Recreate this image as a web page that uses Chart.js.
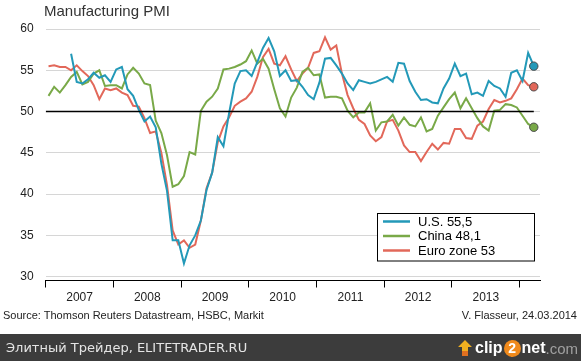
<!DOCTYPE html>
<html><head><meta charset="utf-8">
<script src="https://cdn.jsdelivr.net/npm/chart.js@4.4.1/dist/chart.umd.min.js"></script>
<style>
html,body{margin:0;padding:0;background:#fff;}
#wrap{position:relative;width:581px;height:361px;overflow:hidden;font-family:"Liberation Sans",Arial,sans-serif;background:#fff;}
canvas{position:absolute;left:0;top:0;}
.t{position:absolute;white-space:nowrap;line-height:1;}
</style></head><body>
<div id="wrap">
<canvas id="c" width="581" height="361"></canvas>
<div class="t" style="left:44px;top:3px;font-size:15px;color:#333;">Manufacturing PMI</div>
<div class="t" style="left:3px;top:310px;font-size:11px;color:#222;">Source: Thomson Reuters Datastream, HSBC, Markit</div>
<div class="t" style="right:4px;top:310px;font-size:11px;color:#222;">V. Flasseur, 24.03.2014</div>
<div style="position:absolute;left:0;top:334px;width:581px;height:27px;background:#3c3c3c;"></div>
<div class="t" style="left:6px;top:341px;font-family:'DejaVu Sans';font-size:13px;color:#e4e4e4;">Элитный Трейдер, ELITETRADER.RU</div>
<div class="t" style="left:458px;top:338px;height:20px;display:flex;align-items:center;">
  <svg width="14" height="16" viewBox="0 0 14 16"><polygon points="7,0 14,7 10,7 10,16 4,16 4,7 0,7" fill="#f0b020"/><rect x="4" y="11" width="6" height="5" fill="#e07020"/></svg>
  <span style="font-weight:bold;font-size:16px;color:#fff;margin-left:3px;">clip</span>
  <span style="display:inline-block;width:17px;height:17px;border-radius:50%;background:#f08a1c;color:#fff;font-weight:bold;font-size:14px;text-align:center;line-height:17px;margin:0 1px;">2</span>
  <span style="font-weight:bold;font-size:16px;color:#fff;">net</span>
  <span style="font-size:15px;color:#a0a0a0;">.com</span>
</div>
</div>
<script>
const yearLabels = ['2007','2008','2009','2010','2011','2012','2013'];
const yTicks = [30,35,40,45,50,55,60];
const seriesNames = ['U.S. 55,5','China 48,1','Euro zone 53'];
const refLevel = 50;
// Monthly values, Jan 2007 .. Mar 2014
const usValues = [null,null,null,null,57.0,53.6,53.4,53.9,54.7,54.1,54.4,53.6,
 55.1,55.4,52.7,51.9,50.2,48.8,49.4,48.1,43.7,40.4,34.4,34.4,
 31.6,33.8,35.0,36.8,40.5,42.6,46.9,45.8,49.8,53.4,54.9,55.0,
 54.3,56.0,57.7,58.9,57.3,54.3,55.0,53.7,53.8,53.0,52.0,51.5,
 53.5,56.4,56.5,55.6,54.6,53.4,52.6,53.8,53.6,53.4,53.6,53.9,
 54.2,53.6,55.9,55.8,53.7,52.4,51.4,51.5,51.1,51.0,52.8,54.0,
 55.8,54.3,54.6,52.1,52.3,51.9,53.7,53.1,52.8,51.8,54.7,55.0,
 53.7,57.1,55.5];
const chinaValues = [51.9,53.0,52.3,53.2,54.2,54.8,53.3,53.6,54.6,55.0,53.1,53.2,
 53.2,52.8,54.5,55.3,54.6,53.4,53.2,48.9,47.4,44.7,40.9,41.2,
 42.2,45.1,44.8,50.1,51.2,51.8,52.8,55.1,55.2,55.4,55.7,56.1,
 57.4,55.8,56.4,55.2,52.7,50.4,49.4,51.7,52.9,54.8,55.3,54.4,
 54.5,51.7,51.8,51.8,51.6,50.1,49.3,49.9,49.9,51.0,47.7,48.7,
 48.8,49.6,48.3,49.3,48.4,48.2,49.3,47.6,47.9,49.5,50.5,51.5,
 52.3,50.4,51.6,50.4,49.2,48.2,47.7,50.1,50.2,50.9,50.8,50.5,
 49.5,48.5,48.1];
const euroValues = [55.5,55.6,55.4,55.4,55.0,55.6,54.9,54.3,53.2,51.5,52.8,52.6,
 52.8,52.3,52.0,50.7,50.6,49.2,47.4,47.6,45.0,41.1,35.6,33.9,
 34.4,33.5,33.9,36.8,40.7,42.6,46.3,48.2,49.3,50.7,51.2,51.6,
 52.4,54.2,56.6,57.6,55.8,55.6,56.7,55.1,53.7,54.6,55.3,57.1,
 57.3,59.0,57.5,58.0,54.6,52.0,50.4,49.0,48.5,47.1,46.4,46.9,
 48.8,49.0,47.7,45.9,45.1,45.1,44.0,45.1,46.1,45.4,46.2,46.1,
 47.9,47.9,46.8,46.7,48.3,48.8,50.3,51.4,51.1,51.3,51.6,52.7,
 54.0,53.2,53.0];

const colors = ['#2399b8','#79a948','#e2685a'];
const pts = arr => arr.map((v,i)=>({x:i+0.5,y:v}));
function series(label, arr, color){
  const last = arr.length-1;
  return {label, data: pts(arr), borderColor: color, backgroundColor: color,
    borderWidth: 2, tension: 0, spanGaps:false, isSeries:true,
    pointRadius: c => c.dataIndex===last ? 4.2 : 0,
    pointBackgroundColor: color, pointBorderColor:'#4a4a4a', pointBorderWidth:1,
    pointHoverRadius:0};
}
const nMonths = euroValues.length;

const legendPlugin = {
  id:'boxLegend',
  afterDraw(chart){
    const ctx = chart.ctx;
    const sets = chart.data.datasets.filter(d=>d.isSeries);
    const bx=377.5, by=213.5, bw=157, bh=47.5;
    ctx.save();
    ctx.fillStyle='#fff'; ctx.fillRect(bx,by,bw,bh);
    ctx.strokeStyle='#000'; ctx.lineWidth=1; ctx.strokeRect(bx,by,bw,bh);
    ctx.font='13px "Liberation Sans", Arial, sans-serif';
    ctx.textBaseline='middle';
    sets.forEach((d,i)=>{
      const y = 221.5 + i*14.5;
      ctx.strokeStyle=d.borderColor; ctx.lineWidth=2.5;
      ctx.beginPath(); ctx.moveTo(383,y); ctx.lineTo(410,y); ctx.stroke();
      ctx.fillStyle='#000'; ctx.fillText(d.label,418,y+0.5);
    });
    ctx.restore();
  }
};

new Chart(document.getElementById('c'), {
  type:'line',
  data:{datasets:[
    {label:'ref', data:[{x:0,y:refLevel},{x:nMonths-0.5,y:refLevel}], borderColor:'#000', borderWidth:1.5, pointRadius:0, tension:0},
    series(seriesNames[0], usValues, colors[0]),
    series(seriesNames[1], chinaValues, colors[1]),
    series(seriesNames[2], euroValues, colors[2])
  ]},
  options:{
    responsive:false, animation:false, devicePixelRatio:1,
    layout:{padding:{top:29,left:0,right:41,bottom:50.5}},
    plugins:{legend:{display:false}, tooltip:{enabled:false}},
    scales:{
      x:{type:'linear', min:0, max:87.6,
        afterBuildTicks: s => { const t=[]; for(let v=0; v<=84; v+=6) t.push({value:v}); s.ticks=t; },
        afterFit: s => { s.height = 30; },
        grid:{drawOnChartArea:false, drawTicks:true, tickLength:7, lineWidth:1,
          color: c => (c.tick && c.tick.value % 12 === 0) ? '#000' : 'rgba(0,0,0,0)'},
        border:{display:true, color:'#000', width:1},
        ticks:{autoSkip:false, maxRotation:0, padding:3, color:'#222',
          font:{family:'"Liberation Sans", Arial, sans-serif', size:12},
          callback: v => (v % 12 === 6) ? yearLabels[(v-6)/12] : ''}
      },
      y:{type:'linear', min:29.54, max:60,
        afterBuildTicks: s => { s.ticks = yTicks.map(v=>({value:v})); },
        afterFit: s => { s.width = 45.7; },
        grid:{color:'#d6d6d6', lineWidth:1, drawTicks:false},
        border:{display:false},
        ticks:{padding:12, color:'#222', font:{family:'"Liberation Sans", Arial, sans-serif', size:12}}
      }
    }
  },
  plugins:[legendPlugin]
});
</script>
</body></html>
